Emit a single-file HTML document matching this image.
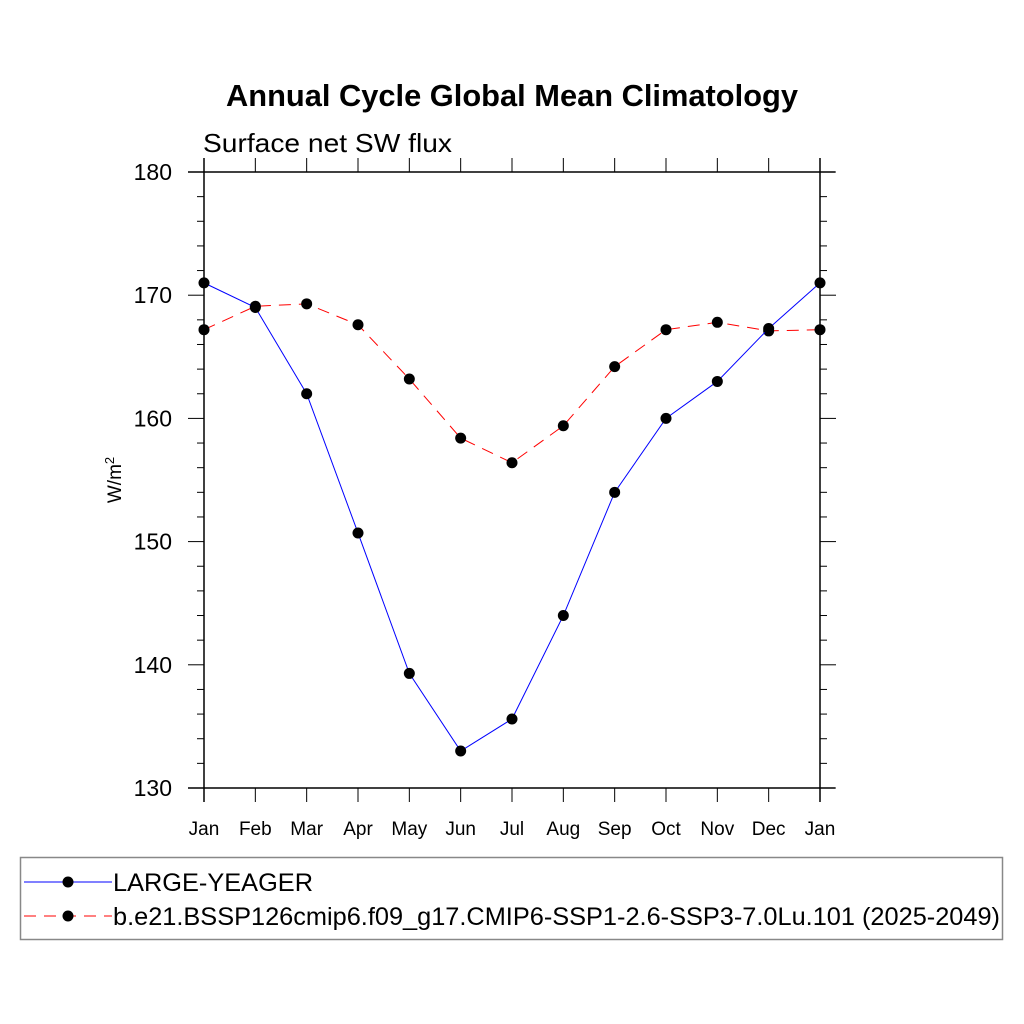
<!DOCTYPE html>
<html><head><meta charset="utf-8"><style>
html,body{margin:0;padding:0;background:#fff;}
svg{display:block;font-family:"Liberation Sans",sans-serif;}
</style></head><body>
<svg id="chart" width="1024" height="1024" xmlns="http://www.w3.org/2000/svg">
<text x="226" y="106" font-size="31" font-weight="bold" textLength="572" lengthAdjust="spacingAndGlyphs">Annual Cycle Global Mean Climatology</text>
<text x="203" y="152" font-size="26" textLength="249" lengthAdjust="spacingAndGlyphs">Surface net SW flux</text>
<text transform="translate(121,480) rotate(-90)" text-anchor="middle" font-size="19">W/m<tspan dy="-7" font-size="13">2</tspan></text>
<g id="axes"></g>
<g id="series"></g>
<rect x="20.5" y="857.5" width="982" height="82" fill="none" stroke="#888" stroke-width="1.5"/>
<line x1="24" y1="882" x2="112" y2="882" stroke="#0000ff" stroke-width="1"/>
<circle cx="68" cy="882" r="5.5" fill="#000"/>
<text x="113" y="891" font-size="25" textLength="200" lengthAdjust="spacingAndGlyphs">LARGE-YEAGER</text>
<line x1="24" y1="916" x2="112" y2="916" stroke="#ff0000" stroke-width="1" stroke-dasharray="12,8"/>
<circle cx="68" cy="916" r="5.5" fill="#000"/>
<text x="113" y="925" font-size="25" textLength="887" lengthAdjust="spacingAndGlyphs">b.e21.BSSP126cmip6.f09_g17.CMIP6-SSP1-2.6-SSP3-7.0Lu.101 (2025-2049)</text>
</svg>
<script>
const months = ["Jan","Feb","Mar","Apr","May","Jun","Jul","Aug","Sep","Oct","Nov","Dec","Jan"];
const largeYeager = [171.0,169.0,162.0,150.7,139.3,133.0,135.6,144.0,154.0,160.0,163.0,167.3,171.0];
const bssp126 = [167.2,169.1,169.3,167.6,163.2,158.4,156.4,159.4,164.2,167.2,167.8,167.1,167.2];
const yTicks = [130,140,150,160,170,180];
const yMin = 130, yMax = 180;
const X0 = 204, X1 = 820, Y0 = 788, Y1 = 172;
const NS = "http://www.w3.org/2000/svg";
function xs(i){ return X0 + i*(X1-X0)/(months.length-1); }
function ys(v){ return Y0 - (v-yMin)*(Y0-Y1)/(yMax-yMin); }
function mk(tag, attrs, parent){ const e=document.createElementNS(NS,tag); for(const k in attrs) e.setAttribute(k,attrs[k]); parent.appendChild(e); return e; }
const axes = document.getElementById('axes');
const ser = document.getElementById('series');
const frame = {stroke:"#000","stroke-width":1.5};
let l;
l = mk('line',Object.assign({x1:X0,y1:158,x2:X0,y2:802},frame),axes);


l = mk('line',Object.assign({x1:X1,y1:158,x2:X1,y2:802},frame),axes);


l = mk('line',Object.assign({x1:188,y1:Y1,x2:835,y2:Y1},frame),axes);


l = mk('line',Object.assign({x1:188,y1:Y0,x2:835,y2:Y0},frame),axes);


for(let v=yMin; v<=yMax; v+=2){
  const y=ys(v), major=(v%10===0), len=major?16:7;
  l = mk('line',{x1:X0-len,y1:y,x2:X0,y2:y,stroke:"#000","stroke-width":1},axes);
  
  
  l = mk('line',{x1:X1,y1:y,x2:X1+len,y2:y,stroke:"#000","stroke-width":1},axes);
  
  
}
yTicks.forEach(v=>{
  const t = mk('text',{x:172,y:ys(v)+8,"text-anchor":"end","font-size":23},axes);
  t.textContent = v;
  
  
});
months.forEach((m,i)=>{
  const x=xs(i);
  l = mk('line',{x1:x,y1:Y1-14,x2:x,y2:Y1,stroke:"#000","stroke-width":1},axes);
  
  
  l = mk('line',{x1:x,y1:Y0,x2:x,y2:Y0+14,stroke:"#000","stroke-width":1},axes);
  
  
  const t = mk('text',{x:x,y:835,"text-anchor":"middle","font-size":19},axes);
  t.textContent = m;
  
  
});
function drawSeries(vals,color,dash,name){
  const p = mk('polyline',{points:vals.map((v,i)=>xs(i)+","+ys(v)).join(" "),fill:"none",stroke:color,"stroke-width":1,"stroke-dasharray":dash},ser);
  
  
  vals.forEach((v,i)=>{
    const c = mk('circle',{cx:xs(i),cy:ys(v),r:5.5,fill:"#000"},ser);
    
    
  });
}
drawSeries(bssp126,"#ff0000","12,8","bssp126");
drawSeries(largeYeager,"#0000ff","none","large-yeager");
</script>
</body></html>
